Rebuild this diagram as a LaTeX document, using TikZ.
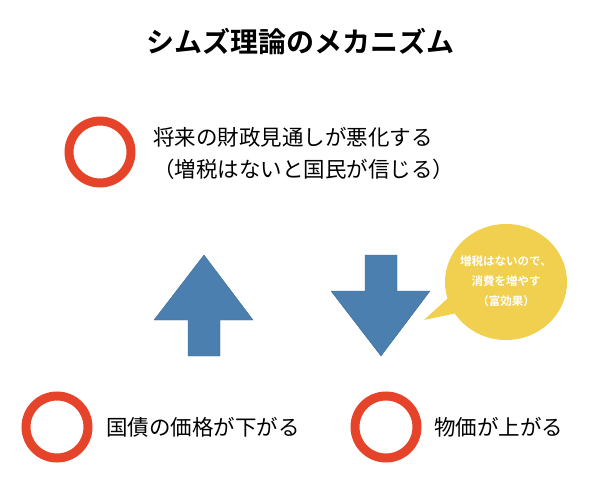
\documentclass[tikz,border=0pt]{standalone}
\usepackage{fontspec}
\usetikzlibrary{shapes.geometric}
\newfontfamily\jp{Noto Sans CJK JP}
\newfontfamily\jpb{Noto Sans CJK JP Bold}
\definecolor{ringred}{HTML}{E5432A}
\definecolor{arrblue}{HTML}{4A7FAF}
\definecolor{bubble}{HTML}{F0D04E}
\begin{document}
\begin{tikzpicture}[x=1pt,y=-1pt,
  ring/.style={circle,draw=ringred,line width=9pt,minimum size=62pt,inner sep=0pt},
  label/.style={font=\jp\fontsize{21.5}{32}\selectfont,anchor=west,align=left,inner sep=0pt},
  arrowfill/.style={fill=arrblue,draw=arrblue!85!black,line width=0.4pt}]
  \useasboundingbox (0,0) rectangle (600,500);
  \node (title) at (300,42) {\jpb\fontsize{28}{32}\selectfont シムズ理論のメカニズム};
  \node[ring] (r1) at (100,152) {};
  \node[label] (t1) at (153,153) {将来の財政見通しが悪化する\\（増税はないと国民が信じる）};
  \node[ring] (r2) at (57,427) {};
  \node[label] (t2) at (106,427) {国債の価格が下がる};
  \node[ring] (r3) at (386,427) {};
  \node[label] (t3) at (434,427) {物価が上がる};
  % arrows
  \draw[arrowfill] (204,255) -- (253,320) -- (220,320) -- (220,356) -- (188,356) -- (188,320) -- (154,320) -- cycle;
  \draw[arrowfill] (381,356) -- (430,291) -- (397,291) -- (397,255) -- (365,255) -- (365,291) -- (331,291) -- cycle;
  % bubble
  \fill[bubble] (448,298) -- (424,320) -- (462,312) -- cycle;
  \node[ellipse,fill=bubble,minimum width=122pt,minimum height=116pt,inner sep=0pt] (b) at (506,282) {};
  \node[font=\jpb\fontsize{11.5}{20}\selectfont,text=white,align=center] (bt) at (506,281) {増税はないので、\\消費を増やす\\（富効果）};
\end{tikzpicture}
\end{document}
